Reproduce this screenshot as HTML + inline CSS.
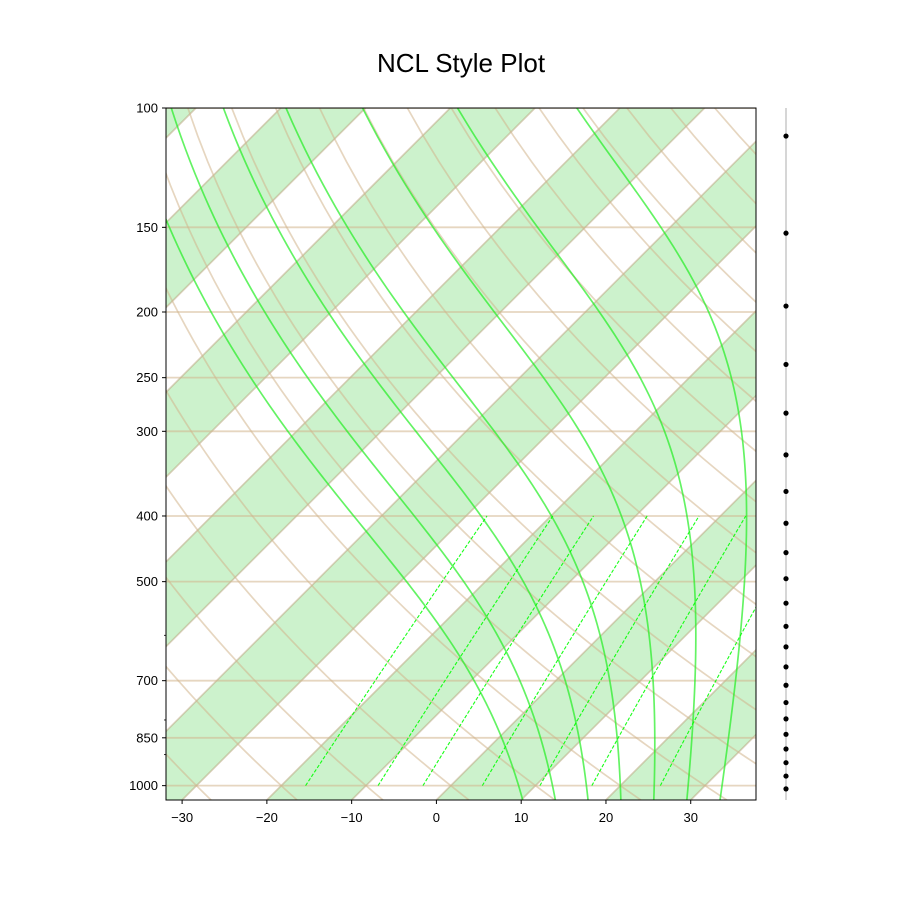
<!DOCTYPE html>
<html><head><meta charset="utf-8"><title>NCL Style Plot</title>
<style>
html,body{margin:0;padding:0;background:#fff;}
svg{display:block;font-family:"Liberation Sans","DejaVu Sans",sans-serif;}
</style></head>
<body>
<svg id="chart" width="900" height="900" viewBox="0 0 900 900" xmlns="http://www.w3.org/2000/svg">
<defs><clipPath id="plotclip"><rect x="166" y="108" width="590" height="692"/></clipPath></defs>
<rect width="900" height="900" fill="#fff"/>
<text x="461" y="72" text-anchor="middle" font-size="26" fill="#000">NCL Style Plot</text>
<g id="plot" clip-path="url(#plotclip)"></g>
<g id="axes"></g>
<g id="side"></g>
</svg>
<script>
// ---- data arrays ----
const xTicks = [-30, -20, -10, 0, 10, 20, 30];
const yTickLabels = [100, 150, 200, 250, 300, 400, 500, 700, 850, 1000];
const yMinorTicks = [600, 800, 900];
const isobars = [100, 150, 200, 250, 300, 400, 500, 700, 850, 1000];
const isotherms = [-120,-110,-100,-90,-80,-70,-60,-50,-40,-30,-20,-10,0,10,20,30,40];
const shadedBandStarts = [-120,-100,-80,-60,-40,-20,0,20,40];
const dryAdiabatT0 = [-60,-50,-40,-30,-20,-10,0,10,20,30,40,50,60,70,80,90,100,110,120,130,140,150,160,170,180,190,200,210,220];
const moistAdiabatT0 = [8, 12, 16, 20, 24, 28, 32];
const mixingRatios = [1, 2, 3, 5, 8, 12, 20];
const windPressures = [110,153,196,239,282,325,368,410,453,495,538,582,624,668,711,754,797,840,883,925,968,1011];

// ---- axes ----
const L = 166, R = 756, TOP = 108, B = 800, W = R - L, H = B - TOP;
const xmin = -31.9, xmax = 37.7, pTop = 100, pBot = 1050;
const NS = 'http://www.w3.org/2000/svg';
function yOf(p){ return TOP + H * Math.log10(p / pTop) / Math.log10(pBot / pTop); }
function xOf(T, p){ const y = yOf(p); return L + W * (T - xmin) / (xmax - xmin) + (B - y); }
function mk(tag, attrs, parent){ const e = document.createElementNS(NS, tag); for (const k in attrs) e.setAttribute(k, attrs[k]); parent.appendChild(e); return e; }
function pathFrom(pts){ return pts.map((q,i)=>(i?'L':'M')+q[0].toFixed(2)+','+q[1].toFixed(2)).join(''); }

const plot = document.getElementById('plot');
const axes = document.getElementById('axes');
const side = document.getElementById('side');

shadedBandStarts.forEach(t1 => {
  const t2 = t1 + 10;
  const pts = [[xOf(t1,pBot),yOf(pBot)],[xOf(t2,pBot),yOf(pBot)],[xOf(t2,pTop),yOf(pTop)],[xOf(t1,pTop),yOf(pTop)]];
  const el = mk('path', {d: pathFrom(pts)+'Z', fill:'rgb(50,205,50)', 'fill-opacity':'0.25', stroke:'none'}, plot);
  
  
});
isotherms.forEach(t => {
  const el = mk('line', {x1:xOf(t,pBot), y1:yOf(pBot), x2:xOf(t,pTop), y2:yOf(pTop), stroke:'#b8a27a', 'stroke-opacity':'0.5', 'stroke-width':'1.7'}, plot);
  
  
});
isobars.forEach(p => {
  const el = mk('line', {x1:L, y1:yOf(p), x2:R, y2:yOf(p), stroke:'#d2b48c', 'stroke-opacity':'0.55', 'stroke-width':'1.8'}, plot);
  
  
});
dryAdiabatT0.forEach(t0 => {
  const pts = [];
  for (let p = pBot; p >= pTop - 0.01; p -= 10) {
    const T = (t0 + 273.15) * Math.pow(p / 1000, 0.28571) - 273.15;
    pts.push([xOf(T,p), yOf(p)]);
  }
  const el = mk('path', {d: pathFrom(pts), fill:'none', stroke:'#d2b48c', 'stroke-opacity':'0.55', 'stroke-width':'1.7'}, plot);
  
  
});
const Rd = 287.04749, Cp = 1004.6662, Lv = 2.50084e6, eps = 0.62195691;
function esat(Tk){ const tc = Tk - 273.15; return 6.112 * Math.exp(17.67 * tc / (tc + 243.5)); }
function dTdp(p, Tk){ const es = esat(Tk); const rs = eps * es / (p - es);
  return (1 / p) * (Rd * Tk + Lv * rs) / (Cp + (Lv * Lv * rs * eps) / (Rd * Tk * Tk)); }
function integrate(T0k, p0, p1, step){
  const out = [[p0, T0k]]; let p = p0, T = T0k; const n = Math.ceil(Math.abs(p1 - p0) / step); const h = (p1 - p0) / n;
  for (let i = 0; i < n; i++) {
    const k1 = dTdp(p, T), k2 = dTdp(p + h/2, T + h/2*k1), k3 = dTdp(p + h/2, T + h/2*k2), k4 = dTdp(p + h, T + h*k3);
    T += h/6 * (k1 + 2*k2 + 2*k3 + k4); p += h; out.push([p, T]);
  }
  return out;
}
moistAdiabatT0.forEach(t0 => {
  const up = integrate(t0 + 273.15, 1000, pTop, 5);
  const down = integrate(t0 + 273.15, 1000, pBot, 5).reverse();
  const all = down.concat(up.slice(1));
  const pts = all.map(q => [xOf(q[1] - 273.15, q[0]), yOf(q[0])]);
  const el = mk('path', {d: pathFrom(pts), fill:'none', stroke:'#22ee22', 'stroke-opacity':'0.7', 'stroke-width':'1.7'}, plot);
  
  
});
mixingRatios.forEach(w => {
  const pts = [];
  for (let p = 1000; p >= 400 - 0.01; p -= 20) {
    const wk = w / 1000; const e = wk * p / (eps + wk); const lg = Math.log(e / 6.112);
    const Td = 243.5 * lg / (17.67 - lg);
    pts.push([xOf(Td,p), yOf(p)]);
  }
  const el = mk('path', {d: pathFrom(pts), fill:'none', stroke:'#00ff00', 'stroke-opacity':'0.9', 'stroke-width':'1.1', 'stroke-dasharray':'3.5,1.8'}, plot);
  
  
});

const frame = mk('rect', {x:L, y:TOP, width:W, height:H, fill:'none', stroke:'#000', 'stroke-width':'1'}, axes);


xTicks.forEach(t => {
  const x = L + W * (t - xmin) / (xmax - xmin);
  const tk = mk('line', {x1:x, y1:B, x2:x, y2:B+4, stroke:'#000', 'stroke-width':'1'}, axes);
  
  
  const lb = mk('text', {x:x, y:B+22, 'text-anchor':'middle', 'font-size':'13', fill:'#000'}, axes);
  lb.textContent = (t < 0 ? '\u2212' + Math.abs(t) : String(t));
  
  
});
yTickLabels.forEach(p => {
  const y = yOf(p);
  const tk = mk('line', {x1:L-4, y1:y, x2:L, y2:y, stroke:'#000', 'stroke-width':'1'}, axes);
  
  
  const lb = mk('text', {x:L-8, y:y+4.5, 'text-anchor':'end', 'font-size':'13', fill:'#000'}, axes);
  lb.textContent = String(p);
  
  
});
yMinorTicks.forEach(p => {
  const y = yOf(p);
  const tk = mk('line', {x1:L-2, y1:y, x2:L, y2:y, stroke:'#000', 'stroke-width':'0.8'}, axes);
  
  
});
const sx = 786;
const vl = mk('line', {x1:sx, y1:TOP, x2:sx, y2:B, stroke:'#999', 'stroke-width':'0.8'}, side);


windPressures.forEach(p => {
  const c = mk('circle', {cx:sx, cy:yOf(p), r:'2.6', fill:'#000'}, side);
  
  
});
</script>
</body></html>
